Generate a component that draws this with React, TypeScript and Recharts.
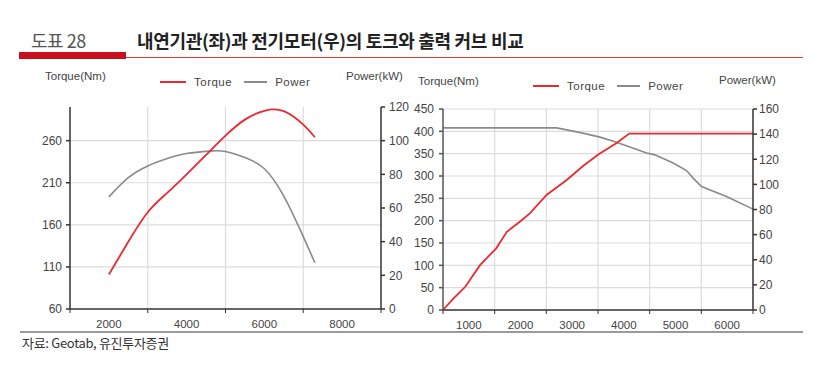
import React from "react";
import { LineChart, Line, XAxis, YAxis, CartesianGrid } from "recharts";

// 내연기관 (좌)
const iceTorqueRpm = [2000, 2500, 3000, 3500, 4000, 4500, 5000, 5500, 6000, 6500, 7000, 7300];
const iceTorque = [101, 140, 175, 198, 220, 243, 266, 285, 295.5, 295, 279, 264];
const icePowerRpm = [2000, 2500, 3000, 3500, 4000, 4600, 5000, 5500, 6000, 6500, 7000, 7300];
const icePower = [66.6, 78, 85, 89.4, 92.4, 93.8, 93.6, 90, 83.3, 67, 43, 27.5];

// 전기모터 (우)
const evTorqueRpm = [500, 705, 931, 1220, 1530, 1736, 1993, 2186, 2509, 2895, 3216, 3506, 3861, 4105, 6500];
const evTorque = [0, 26, 52, 101, 138, 175, 198, 217, 258, 291, 323, 348, 374, 395, 395];
const evPowerRpm = [500, 2700, 3185, 3538, 3828, 4118, 4440, 4601, 4955, 5213, 5341, 5503, 5986, 6500];
const evPower = [145, 145, 141, 137.6, 134, 129.7, 125, 123.5, 117, 111, 105, 98.3, 90.3, 80.3];

// 축 눈금
const iceXLabels = [2000, 4000, 6000, 8000];
const iceXMarks = [1000, 3000, 5000, 7000, 9000];
const iceTorqueTicks = [60, 110, 160, 210, 260];
const icePowerTicks = [0, 20, 40, 60, 80, 100, 120];
const evXLabels = [1000, 2000, 3000, 4000, 5000, 6000];
const evXMarks = [500, 1500, 2500, 3500, 4500, 5500, 6500];
const evTorqueTicks = [0, 50, 100, 150, 200, 250, 300, 350, 400, 450];
const evPowerTicks = [0, 20, 40, 60, 80, 100, 120, 140, 160];

const RED = "#ea2a30";
const GRAY = "#8a8a8a";
const AXIS = "#333";
const FONT = "'Liberation Sans', Arial, sans-serif";
const KR = "'Noto Sans CJK KR', 'Noto Sans', sans-serif";

const toPoints = (xs: number[], ys: number[]) => xs.map((rpm, i) => ({ rpm, v: ys[i] }));

function makeTick(labels: number[]) {
  return function RpmTick(props: any) {
    const { x, y, payload } = props;
    const v = payload.value as number;
    if (!labels.includes(v)) {
      return <line x1={x} x2={x} y1={y - 6} y2={y - 2} stroke={AXIS} strokeWidth={1} />;
    }
    return (
      <text x={x} y={y} dy={13} textAnchor="middle" fontSize={11.5} fill="#444" fontFamily={FONT}>
        {v}
      </text>
    );
  };
}

function LegendBox({ left, top }: { left: number; top: number }) {
  const item = (color: string, label: string, w: number) => (
    <div style={{ display: "flex", alignItems: "center", marginRight: 12 }}>
      <div style={{ width: w, height: 2, background: color, marginRight: 8 }} />
      <span>{label}</span>
    </div>
  );
  return (
    <div
      style={{
        position: "absolute",
        left,
        top,
        display: "flex",
        fontSize: 11.5,
        color: "#444",
        fontFamily: FONT,
        letterSpacing: 0.5,
      }}
    >
      {item(RED, "Torque", 26)}
      {item(GRAY, "Power", 23)}
    </div>
  );
}

const label = (text: string, left: number, top: number) => (
  <div
    style={{
      position: "absolute",
      left,
      top,
      fontSize: 11.5,
      color: "#444",
      fontFamily: FONT,
      whiteSpace: "nowrap",
    }}
  >
    {text}
  </div>
);

const tickStyle = { fontSize: 12, fill: "#444", fontFamily: FONT };

export default function App() {
  const iceT = toPoints(iceTorqueRpm, iceTorque);
  const iceP = toPoints(icePowerRpm, icePower);
  const evT = toPoints(evTorqueRpm, evTorque);
  const evP = toPoints(evPowerRpm, evPower);

  return (
    <div
      style={{
        position: "absolute",
        left: 0,
        top: 0,
        width: 827,
        height: 377,
        background: "#fff",
        overflow: "hidden",
      }}
    >
      {/* 제목 */}
      <div
        style={{
          position: "absolute",
          left: 31,
          top: 28,
          fontSize: 18,
          color: "#555",
          fontFamily: KR,
          lineHeight: "24px",
          letterSpacing: -0.5,
        }}
      >
        도표 28
      </div>
      <div
        style={{
          position: "absolute",
          left: 137,
          top: 28,
          fontSize: 18,
          fontWeight: 700,
          color: "#222",
          fontFamily: KR,
          lineHeight: "24px",
          letterSpacing: -0.3,
        }}
      >
        내연기관(좌)과 전기모터(우)의 토크와 출력 커브 비교
      </div>
      <div style={{ position: "absolute", left: 19, top: 52, width: 107, height: 7, background: "#c8101e" }} />
      <div style={{ position: "absolute", left: 126, top: 57, width: 677, height: 1.2, background: "#d83a3a" }} />

      {/* 좌측: 내연기관 */}
      {label("Torque(Nm)", 45, 70)}
      {label("Power(kW)", 346, 70)}
      <LegendBox left={160} top={76} />
      <div style={{ position: "absolute", left: 0, top: 95 }}>
        <LineChart width={420} height={240} margin={{ top: 12, right: 0, left: 0, bottom: 0 }}>
          <CartesianGrid
            stroke="#dcdcdc"
            strokeWidth={1.2}
            horizontalValues={[110, 160, 210, 260]}
            verticalValues={[3000, 5000, 7000]}
          />
          <XAxis
            dataKey="rpm"
            type="number"
            domain={[1000, 9000]}
            ticks={[...iceXMarks, ...iceXLabels].sort((a, b) => a - b)}
            interval={0}
            height={26}
            tickLine={false}
            tickSize={4}
            tickMargin={2}
            stroke={AXIS}
            strokeWidth={1.5}
            tick={makeTick(iceXLabels)}
          />
          <YAxis
            type="number"
            domain={[60, 300]}
            ticks={iceTorqueTicks}
            interval={0}
            width={70}
            tickSize={4}
            tickMargin={4}
            stroke={AXIS}
            strokeWidth={1.5}
            tick={tickStyle}
          />
          <YAxis
            yAxisId="right"
            orientation="right"
            type="number"
            domain={[0, 120]}
            ticks={icePowerTicks}
            interval={0}
            width={39}
            tickSize={4}
            tickMargin={4}
            stroke={AXIS}
            strokeWidth={1.5}
            tick={tickStyle}
          />
          <Line
            data={iceP}
            dataKey="v"
            yAxisId="right"
            type="natural"
            stroke={GRAY}
            strokeWidth={1.6}
            dot={false}
            isAnimationActive={false}
          />
          <Line
            data={iceT}
            dataKey="v"
            type="natural"
            stroke={RED}
            strokeWidth={1.8}
            dot={false}
            isAnimationActive={false}
          />
        </LineChart>
      </div>

      {/* 우측: 전기모터 */}
      {label("Torque(Nm)", 418, 75)}
      {label("Power(kW)", 719, 74)}
      <LegendBox left={533} top={80} />
      <div style={{ position: "absolute", left: 400, top: 95 }}>
        <LineChart width={400} height={241} margin={{ top: 14, right: 0, left: 0, bottom: 0 }}>
          <CartesianGrid
            stroke="#dcdcdc"
            strokeWidth={1.2}
            horizontalValues={[50, 100, 150, 200, 250, 300, 350, 400, 450]}
            verticalValues={[1500, 2500, 3500, 4500, 5500]}
          />
          <XAxis
            dataKey="rpm"
            type="number"
            domain={[500, 6500]}
            ticks={[...evXMarks, ...evXLabels].sort((a, b) => a - b)}
            interval={0}
            height={26}
            tickLine={false}
            tickSize={4}
            tickMargin={2}
            stroke={AXIS}
            strokeWidth={1.5}
            tick={makeTick(evXLabels)}
          />
          <YAxis
            type="number"
            domain={[0, 450]}
            ticks={evTorqueTicks}
            interval={0}
            width={43}
            tickSize={4}
            tickMargin={5}
            stroke="#555"
            strokeWidth={1.5}
            tick={tickStyle}
          />
          <YAxis
            yAxisId="right"
            orientation="right"
            type="number"
            domain={[0, 160]}
            ticks={evPowerTicks}
            interval={0}
            width={47}
            tickSize={4}
            tickMargin={2}
            stroke={AXIS}
            strokeWidth={1.5}
            tick={tickStyle}
          />
          <Line
            data={evP}
            dataKey="v"
            yAxisId="right"
            type="linear"
            stroke={GRAY}
            strokeWidth={1.6}
            dot={false}
            isAnimationActive={false}
          />
          <Line
            data={evT}
            dataKey="v"
            type="linear"
            stroke={RED}
            strokeWidth={1.8}
            dot={false}
            isAnimationActive={false}
          />
        </LineChart>
      </div>

      {/* 출처 */}
      <div style={{ position: "absolute", left: 20, top: 331, width: 783, height: 1.5, background: "#9a9a9a" }} />
      <div
        style={{
          position: "absolute",
          left: 22,
          top: 334,
          fontSize: 13,
          color: "#333",
          fontFamily: KR,
          lineHeight: "18px",
          letterSpacing: -0.3,
        }}
      >
        자료: Geotab, 유진투자증권
      </div>
    </div>
  );
}
